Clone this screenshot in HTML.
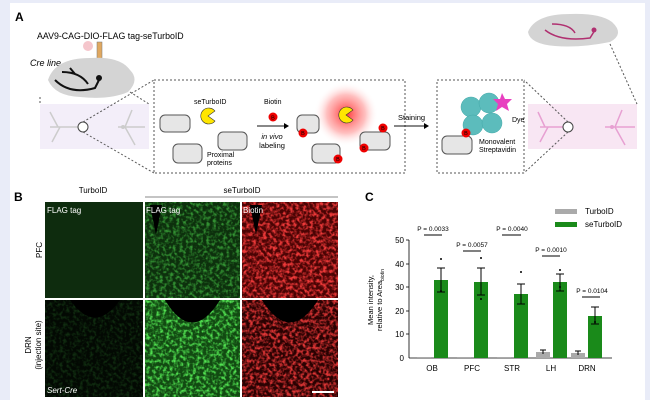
<!DOCTYPE html>
<html><head><meta charset="utf-8"><style>
body{margin:0;background:#e9ecf8;}
svg{display:block;font-family:"Liberation Sans",Arial,sans-serif;}
</style></head><body>
<svg width="650" height="400" viewBox="0 0 650 400" xmlns="http://www.w3.org/2000/svg">
<defs>
<radialGradient id="glow"><stop offset="0" stop-color="#ff2020" stop-opacity="0.9"/><stop offset="0.6" stop-color="#ff6060" stop-opacity="0.4"/><stop offset="1" stop-color="#ffffff" stop-opacity="0"/></radialGradient>
<filter id="ng" x="0" y="0" width="1" height="1"><feTurbulence type="fractalNoise" baseFrequency="0.3" numOctaves="2" seed="3"/><feColorMatrix values="0 0 0 0 0.1  0 0 0 0 0.9  0 0 0 0 0.1  3 0 0 0 -1.3"/></filter>
<filter id="nr" x="0" y="0" width="1" height="1"><feTurbulence type="fractalNoise" baseFrequency="0.3" numOctaves="2" seed="7"/><feColorMatrix values="0 0 0 0 1  0 0 0 0 0.05  0 0 0 0 0.05  3 0 0 0 -1.2"/></filter>
</defs>
<rect x="10" y="3" width="635" height="397" fill="#fff"/>
<!-- Panel A -->
<text x="15" y="21" font-size="12" font-weight="bold">A</text>
<text x="37" y="39" font-size="8.8">AAV9-CAG-DIO-FLAG tag-seTurboID</text>
<text x="30" y="66" font-size="9" font-style="italic">Cre line</text>
<circle cx="88" cy="46" r="5" fill="#f5c6cc"/>
<rect x="97" y="42" width="5" height="24" fill="#e0a860" stroke="#777" stroke-width="0.5"/>
<line x1="99.5" y1="66" x2="99.5" y2="76" stroke="#555"/>
<path d="M48 80 Q55 58 90 58 Q120 56 130 70 Q140 80 128 92 Q110 100 80 97 Q55 96 48 80Z" fill="#d4d4d4"/>
<path d="M55 80 Q70 95 95 88 L100 78 M62 72 Q80 72 88 84 M70 68 L75 74" stroke="#111" stroke-width="2" fill="none"/>
<circle cx="99" cy="78" r="3" fill="#111"/>
<rect x="40" y="104" width="109" height="45" fill="#f3eef9"/>
<path d="M50 127 L80 127 M118 127 L145 127 M58 127 L50 112 M60 127 L52 142 M125 127 L132 110 M125 127 L135 145" stroke="#ccc" stroke-width="1.5" fill="none"/>
<circle cx="123" cy="127" r="2" fill="#ccc"/>
<circle cx="83" cy="127" r="5" fill="#fff" stroke="#444"/>
<path d="M40 97 L40 104 M130 92 L149 104 M83 122 L154 80 M83 132 L154 173" stroke="#555" stroke-dasharray="2,2" fill="none"/>
<rect x="154" y="80" width="251" height="93" fill="none" stroke="#555" stroke-dasharray="2,2"/>
<rect x="160" y="115" width="30" height="17" rx="5" fill="#e6e6e6" stroke="#555"/>
<rect x="173" y="144" width="29" height="19" rx="5" fill="#e6e6e6" stroke="#555"/>
<rect x="218" y="132" width="29" height="18" rx="5" fill="#e6e6e6" stroke="#555"/>
<path d="M208 116 L215 111 A8 8 0 1 0 215 121Z" fill="#ffe600" stroke="#333" stroke-width="0.6"/>
<text x="194" y="104" font-size="7">seTurboID</text>
<text x="207" y="157" font-size="7">Proximal</text><text x="207" y="165" font-size="7">proteins</text>
<text x="264" y="104" font-size="7">Biotin</text>
<circle cx="273" cy="117" r="4.5" fill="#e00"/><text x="273" y="119.5" font-size="5.5" text-anchor="middle">B</text>
<line x1="257" y1="126" x2="285" y2="126" stroke="#111"/><path d="M289 126 L284 123 L284 129Z"/>
<text x="272" y="139" font-size="7.5" font-style="italic" text-anchor="middle">in vivo</text>
<text x="272" y="148" font-size="7.5" text-anchor="middle">labeling</text>
<circle cx="346" cy="114" r="32" fill="url(#glow)"/>
<path d="M346 115 L353 110 A8 8 0 1 0 353 120Z" fill="#ffe600" stroke="#333" stroke-width="0.6"/>
<rect x="297" y="115" width="22" height="18" rx="5" fill="#e6e6e6" stroke="#555"/>
<rect x="312" y="144" width="28" height="19" rx="5" fill="#e6e6e6" stroke="#555"/>
<rect x="360" y="132" width="30" height="18" rx="5" fill="#e6e6e6" stroke="#555"/>
<g font-size="5.5" text-anchor="middle">
<circle cx="303" cy="133" r="4.5" fill="#e00"/><text x="303" y="135">B</text>
<circle cx="338" cy="159" r="4.5" fill="#e00"/><text x="338" y="161">B</text>
<circle cx="383" cy="128" r="4.5" fill="#e00"/><text x="383" y="130">B</text>
<circle cx="364" cy="148" r="4.5" fill="#e00"/><text x="364" y="150">B</text>
</g>
<text x="398" y="120" font-size="7.5">Staining</text>
<line x1="394" y1="126" x2="425" y2="126" stroke="#111"/><path d="M429 126 L424 123 L424 129Z"/>
<rect x="437" y="80" width="87" height="93" fill="none" stroke="#555" stroke-dasharray="2,2"/>
<g fill="#5cbcbc" stroke="#4aa" stroke-width="0.5">
<circle cx="471" cy="107" r="10"/><circle cx="489" cy="103" r="10"/><circle cx="473" cy="125" r="10"/><circle cx="492" cy="123" r="10"/></g>
<path d="M502 93 L505 99 L512 99 L507 104 L509 111 L502 107 L496 111 L498 104 L493 99 L500 99Z" fill="#e83fc0"/>
<rect x="442" y="136" width="30" height="18" rx="5" fill="#e6e6e6" stroke="#555"/>
<circle cx="466" cy="133" r="4.5" fill="#e00"/><text x="466" y="135" font-size="5.5" text-anchor="middle">B</text>
<text x="512" y="122" font-size="7">Dye</text>
<text x="479" y="144" font-size="7">Monovalent</text><text x="479" y="152" font-size="7">Streptavidin</text>
<path d="M528 32 Q535 14 570 14 Q600 13 612 22 Q625 34 610 42 Q580 48 555 46 Q530 44 528 32Z" fill="#d4d4d4"/>
<path d="M545 30 Q560 42 590 38 L595 30 M552 24 Q570 24 575 33" stroke="#b03070" stroke-width="1.5" fill="none"/>
<circle cx="594" cy="30" r="2.5" fill="#b03070"/>
<rect x="528" y="104" width="109" height="45" fill="#f8e6f3"/>
<path d="M540 127 L565 127 M605 127 L635 127 M545 127 L538 112 M548 127 L540 142 M615 127 L622 110 M615 127 L625 145" stroke="#e7a0d2" stroke-width="1.5" fill="none"/>
<circle cx="612" cy="127" r="2" fill="#e7a0d2"/>
<circle cx="568" cy="127" r="5" fill="#fff" stroke="#444"/>
<path d="M610 44 L637 104 M568 122 L524 80 M568 132 L524 173" stroke="#555" stroke-dasharray="2,2" fill="none"/>
<!-- Panel B -->
<text x="14" y="201" font-size="12" font-weight="bold">B</text>
<text x="93" y="193" font-size="8" text-anchor="middle">TurboID</text>
<text x="242" y="193" font-size="8" text-anchor="middle">seTurboID</text>
<line x1="145" y1="197" x2="338" y2="197" stroke="#888"/>
<rect x="45" y="202" width="98" height="96" fill="#0e2c0e"/>
<rect x="145" y="202" width="95" height="96" fill="#0d300d"/>
<rect x="145" y="202" width="95" height="96" filter="url(#ng)" opacity="0.5"/>
<rect x="242" y="202" width="96" height="96" fill="#4a0404"/>
<rect x="242" y="202" width="96" height="96" filter="url(#nr)" opacity="0.9"/>
<rect x="45" y="300" width="98" height="97" fill="#030903"/>
<rect x="45" y="300" width="98" height="97" filter="url(#ng)" opacity="0.15"/>
<rect x="145" y="300" width="95" height="97" fill="#124a12"/>
<rect x="145" y="300" width="95" height="97" filter="url(#ng)" opacity="0.9"/>
<rect x="242" y="300" width="96" height="97" fill="#2a0202"/>
<rect x="242" y="300" width="96" height="97" filter="url(#nr)" opacity="0.85"/>
<path d="M165 300 Q192 345 220 300Z M262 300 Q290 345 318 300Z M70 300 Q95 335 120 300Z" fill="#000"/>
<path d="M250 205 L262 205 L256 235Z M150 205 L162 205 L156 235Z" fill="#000"/>
<text x="47" y="213" font-size="8" fill="#fff">FLAG tag</text>
<text x="146" y="213" font-size="8" fill="#fff">FLAG tag</text>
<text x="243" y="213" font-size="8" fill="#fff">Biotin</text>
<text x="47" y="393" font-size="8" fill="#fff" font-style="italic">Sert-Cre</text>
<line x1="312" y1="392" x2="334" y2="392" stroke="#fff" stroke-width="2"/>
<text transform="translate(42,250) rotate(-90)" font-size="8" text-anchor="middle">PFC</text>
<text transform="translate(31,345) rotate(-90)" font-size="8" text-anchor="middle">DRN</text>
<text transform="translate(41,345) rotate(-90)" font-size="8" text-anchor="middle">(injection site)</text>
<!-- Panel C -->
<text x="365" y="201" font-size="12" font-weight="bold">C</text>
<rect x="555" y="209" width="22" height="5" fill="#aaa"/><text x="585" y="214" font-size="8">TurboID</text>
<rect x="555" y="222" width="22" height="5" fill="#1a8a1a"/><text x="585" y="227" font-size="8">seTurboID</text>
<text transform="translate(373,300) rotate(-90)" font-size="7.5" text-anchor="middle">Mean intensity,</text>
<text transform="translate(382,300) rotate(-90)" font-size="7.5" text-anchor="middle">relative to Area<tspan font-size="5" dy="2">biotin</tspan></text>
<g font-size="8" text-anchor="end">
<text x="404" y="361">0</text><text x="404" y="337">10</text><text x="404" y="314">20</text><text x="404" y="290">30</text><text x="404" y="267">40</text><text x="404" y="243">50</text></g>
<g stroke="#000" stroke-width="0.8">
<line x1="409" y1="240" x2="409" y2="358"/><line x1="409" y1="358" x2="612" y2="358"/>
<line x1="406" y1="240" x2="409" y2="240"/><line x1="406" y1="264" x2="409" y2="264"/><line x1="406" y1="287" x2="409" y2="287"/><line x1="406" y1="311" x2="409" y2="311"/><line x1="406" y1="334" x2="409" y2="334"/>
</g>
<g fill="#aaa">
<rect x="417" y="357" width="14" height="1"/><rect x="457" y="357" width="14" height="1"/><rect x="497" y="357" width="14" height="1"/><rect x="536" y="352" width="14" height="6"/><rect x="571" y="353" width="14" height="5"/></g>
<g fill="#1a8a1a">
<rect x="434" y="280" width="14" height="78"/><rect x="474" y="282" width="14" height="76"/><rect x="514" y="294" width="14" height="64"/><rect x="553" y="282" width="14" height="76"/><rect x="588" y="316" width="14" height="42"/></g>
<g stroke="#000" stroke-width="1" fill="none">
<path d="M441 268 V292 M437 268 H445 M437 292 H445"/>
<path d="M481 268 V295 M477 268 H485 M477 295 H485"/>
<path d="M521 284 V304 M517 284 H525 M517 304 H525"/>
<path d="M560 274 V291 M556 274 H564 M556 291 H564"/>
<path d="M595 307 V324 M591 307 H599 M591 324 H599"/>
<path d="M543 350 V354 M540 350 H546"/><path d="M578 351 V355 M575 351 H581"/>
<line x1="424" y1="235" x2="442" y2="235"/><line x1="463" y1="251" x2="481" y2="251"/>
<line x1="502" y1="235" x2="521" y2="235"/><line x1="542" y1="256" x2="560" y2="256"/><line x1="582" y1="297" x2="600" y2="297"/>
</g>
<g fill="#000"><circle cx="441" cy="259" r="1"/><circle cx="441" cy="291" r="1"/><circle cx="481" cy="258" r="1"/><circle cx="481" cy="299" r="1"/><circle cx="521" cy="272" r="1"/><circle cx="560" cy="270" r="1"/><circle cx="560" cy="287" r="1"/><circle cx="595" cy="322" r="1"/></g>
<g font-size="6.5" text-anchor="middle">
<text x="433" y="231">P = 0.0033</text><text x="472" y="247">P = 0.0057</text><text x="512" y="231">P = 0.0040</text><text x="551" y="252">P = 0.0010</text><text x="592" y="293">P = 0.0104</text></g>
<g font-size="8" text-anchor="middle">
<text x="432" y="371">OB</text><text x="472" y="371">PFC</text><text x="512" y="371">STR</text><text x="551" y="371">LH</text><text x="587" y="371">DRN</text></g>
</svg>
</body></html>
